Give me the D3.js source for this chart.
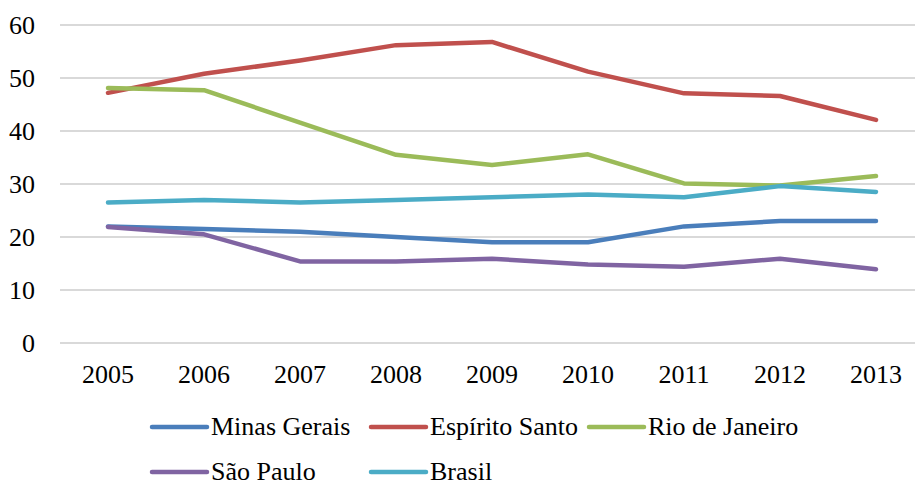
<!DOCTYPE html>
<html>
<head>
<meta charset="utf-8">
<script src="https://cdn.jsdelivr.net/npm/d3@7"></script>
<style>
  body { margin: 0; background: #fff; }
</style>
</head>
<body>
<script>
var years = [2005, 2006, 2007, 2008, 2009, 2010, 2011, 2012, 2013];
var yTicks = [0, 10, 20, 30, 40, 50, 60];

var minasGerais   = [22, 21.5, 21, 20, 19, 19, 22, 23, 23];
var espiritoSanto = [47.2, 50.8, 53.3, 56.2, 56.8, 51.2, 47.1, 46.6, 42.1];
var rioDeJaneiro  = [48.1, 47.7, 41.6, 35.5, 33.6, 35.6, 30.1, 29.7, 31.5];
var saoPaulo      = [21.9, 20.5, 15.4, 15.4, 15.9, 14.8, 14.4, 15.9, 13.9];
var brasil        = [26.5, 27, 26.5, 27, 27.5, 28, 27.5, 29.6, 28.5];

var series = [
  { name: "Minas Gerais", values: minasGerais, color: "#4a7ebb" },
  { name: "Espírito Santo", values: espiritoSanto, color: "#c0504d" },
  { name: "Rio de Janeiro", values: rioDeJaneiro, color: "#9bbb59" },
  { name: "São Paulo", values: saoPaulo, color: "#8064a2" },
  { name: "Brasil", values: brasil, color: "#4bacc6" }
];

var width = 915, height = 484;
var font = "Liberation Serif";

var svg = d3.select("body").append("svg")
    .attr("width", width)
    .attr("height", height)
    .attr("font-family", font)
    .attr("font-size", 26);

var x = d3.scalePoint()
    .domain(years)
    .range([60, 924])
    .padding(0.5);

var y = d3.scaleLinear()
    .domain([0, 60])
    .range([343, 25]);

// gridlines
svg.append("g")
  .selectAll("line")
  .data(yTicks)
  .enter().append("line")
    .attr("x1", 60)
    .attr("x2", width)
    .attr("y1", d => y(d))
    .attr("y2", d => y(d))
    .attr("stroke", "#d9d9d9")
    .attr("stroke-width", 2);

// y labels
svg.append("g")
  .selectAll("text")
  .data(yTicks)
  .enter().append("text")
    .attr("x", 35)
    .attr("y", d => y(d))
    .attr("dy", "0.33em")
    .attr("text-anchor", "end")
    .text(d => d);

// x labels
svg.append("g")
  .selectAll("text")
  .data(years)
  .enter().append("text")
    .attr("x", d => x(d))
    .attr("y", 383)
    .attr("text-anchor", "middle")
    .text(d => d);

var line = d3.line()
    .x((d, i) => x(years[i]))
    .y(d => y(d));

svg.append("g")
  .selectAll("path")
  .data(series)
  .enter().append("path")
    .attr("d", d => line(d.values))
    .attr("fill", "none")
    .attr("stroke", d => d.color)
    .attr("stroke-width", 4.5)
    .attr("stroke-linecap", "round")
    .attr("stroke-linejoin", "round");

// legend
var legendPos = [
  { x: 152, y: 427 }, { x: 371, y: 427 }, { x: 589, y: 427 },
  { x: 152, y: 472 }, { x: 371, y: 472 }
];

var legend = svg.append("g")
  .selectAll("g")
  .data(series)
  .enter().append("g")
    .attr("transform", (d, i) => `translate(${legendPos[i].x}, ${legendPos[i].y})`);

legend.append("line")
    .attr("x1", 0)
    .attr("x2", 55)
    .attr("stroke", d => d.color)
    .attr("stroke-width", 4.5)
    .attr("stroke-linecap", "round");

legend.append("text")
    .attr("x", 59)
    .attr("y", 7.5)
    .text(d => d.name);
</script>
</body>
</html>
